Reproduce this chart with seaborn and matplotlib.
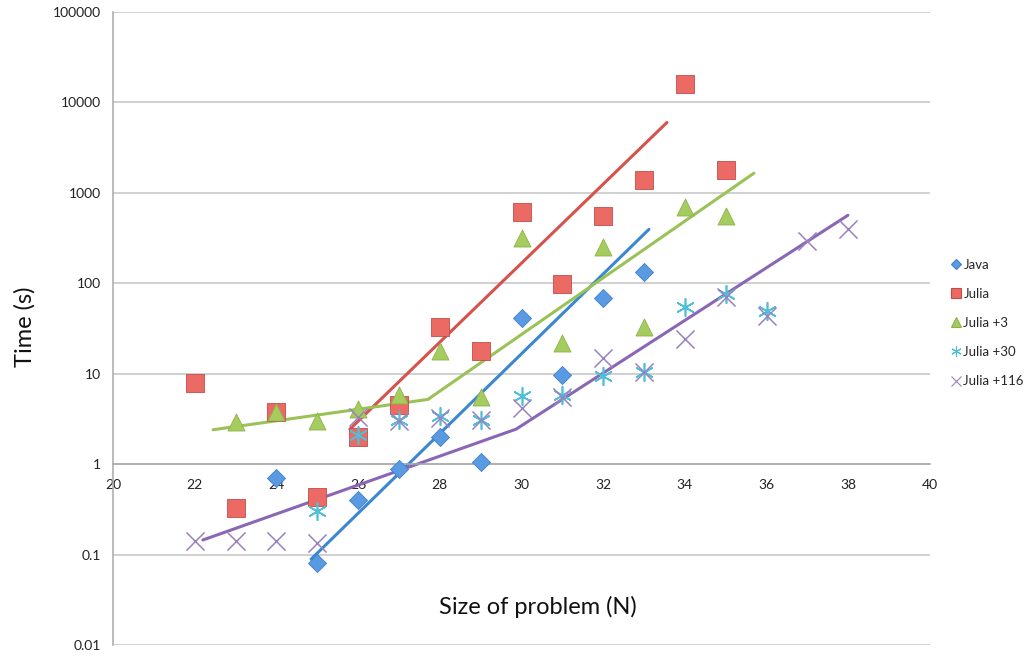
import numpy as np
import pandas as pd
import matplotlib
matplotlib.use("Agg")
import matplotlib.pyplot as plt
import seaborn as sns
from matplotlib.lines import Line2D

# Measured run times (seconds) per problem size N
java_n = [24, 25, 26, 27, 28, 29, 30, 31, 32, 33]
java_t = [0.7, 0.08, 0.4, 0.88, 2.0, 1.05, 41, 9.6, 68, 133]

julia_n = [22, 23, 24, 25, 26, 27, 28, 29, 30, 31, 32, 33, 34, 35]
julia_t = [7.9, 0.33, 3.8, 0.43, 2.0, 4.5, 33, 18, 620, 98, 560, 1380, 16000, 1780]

julia3_n = [23, 24, 25, 26, 27, 28, 29, 30, 31, 32, 33, 34, 35]
julia3_t = [2.9, 3.8, 3.0, 4.1, 5.8, 18, 5.5, 320, 22, 250, 33, 690, 550]

julia30_n = [25, 26, 27, 28, 29, 30, 31, 32, 33, 34, 35, 36]
julia30_t = [0.3, 2.1, 3.1, 3.4, 3.1, 5.6, 5.8, 9.4, 10.4, 54, 76, 50]

julia116_n = [22, 23, 24, 25, 26, 27, 28, 29, 30, 31, 32, 33, 34, 35, 36, 37, 38]
julia116_t = [0.14, 0.14, 0.14, 0.135, 3.3, 3.0, 3.2, 3.1, 4.2, 5.5, 15, 10.4, 24, 70, 44, 290, 400]

# Trend lines (break points)
java_trend_n = [24.85, 33.12]
java_trend_t = [0.089, 395]
julia_trend_n = [25.8, 33.56]
julia_trend_t = [2.44, 6000]
julia3_trend_n = [22.45, 27.71, 35.69]
julia3_trend_t = [2.4, 5.2, 1650]
julia116_trend_n = [22.2, 29.87, 37.99]
julia116_trend_t = [0.145, 2.44, 565]

labels = ["Java", "Julia", "Julia +3", "Julia +30", "Julia +116"]

sns.set_style("white")
plt.rcParams['font.family'] = ['Lato', 'DejaVu Sans']

fig = plt.figure(figsize=(10.36, 6.57), dpi=100)
ax = fig.add_axes([113 / 1036, 12 / 657, 817 / 1036, 633 / 657])
ax.set_yscale('log')

# trend lines first so markers sit on top
trends = [
    (java_trend_n, java_trend_t, '#3b87d0'),
    (julia_trend_n, julia_trend_t, '#d5534c'),
    (julia3_trend_n, julia3_trend_t, '#9bc257'),
    (julia116_trend_n, julia116_trend_t, '#8a67b4'),
]
for tn, tt, c in trends:
    sns.lineplot(x=tn, y=tt, ax=ax, color=c, lw=2.2, sort=False, zorder=2)

java_kw = dict(marker='D', color='#5a9ae2', edgecolor='#3f7fc8', linewidth=0.6, s=85)
julia_kw = dict(marker='s', color='#ec6a64', edgecolor='#c24d48', linewidth=0.6, s=150)
julia3_kw = dict(marker='^', color='#a5cc5e', edgecolor='#8db24a', linewidth=0.6, s=150)
julia30_kw = dict(marker=(6, 2, 0), color='#4fbfd8', linewidth=1.2, s=160)
julia116_kw = dict(marker='x', color='#9a82c2', linewidth=1.1, s=170)

sns.scatterplot(x=java_n, y=java_t, ax=ax, zorder=3, **java_kw)
sns.scatterplot(x=julia_n, y=julia_t, ax=ax, zorder=3, **julia_kw)
sns.scatterplot(x=julia3_n, y=julia3_t, ax=ax, zorder=3, **julia3_kw)
sns.scatterplot(x=julia30_n, y=julia30_t, ax=ax, zorder=3, **julia30_kw)
sns.scatterplot(x=julia116_n, y=julia116_t, ax=ax, zorder=3, **julia116_kw)

ax.set_xlim(20, 40)
ax.set_ylim(0.01, 100000)
ax.set_xticks(np.arange(20, 41, 2))
ax.set_yticks([0.01, 0.1, 1, 10, 100, 1000, 10000, 100000])
ax.set_yticklabels(["0.01", "0.1", "1", "10", "100", "1000", "10000", "100000"])
ax.yaxis.set_minor_locator(matplotlib.ticker.NullLocator())

ax.grid(True, axis='y', color='#c4c4c4', lw=1.1)
ax.set_axisbelow(True)
for s in ['top', 'right']:
    ax.spines[s].set_visible(False)
ax.spines['bottom'].set_position(('data', 1))
ax.spines['left'].set_color('#a8a8a8')
ax.spines['bottom'].set_color('#a8a8a8')
ax.spines['left'].set_linewidth(1.1)
ax.spines['bottom'].set_linewidth(1.1)
ax.tick_params(axis='both', direction='out', length=5, width=1, color='#a8a8a8',
               labelsize=10, labelcolor='#222222')
ax.tick_params(axis='x', pad=6)
ax.set_xlabel("")
ax.set_ylabel("")

fig.text(538 / 1036, 1 - 607 / 657, "Size of problem (N)", fontsize=17,
         ha='center', va='center', color='#111111')
fig.text(25 / 1036, 1 - 327 / 657, "Time (s)", fontsize=17, rotation=90,
         ha='center', va='center', color='#111111')

handles = []
for kw in [java_kw, julia_kw, julia3_kw, julia30_kw, julia116_kw]:
    filled = kw['marker'] in ('D', 's', '^')
    handles.append(Line2D([], [], ls='none', marker=kw['marker'],
                          markersize=np.sqrt(kw['s']) * 0.6,
                          markerfacecolor=kw['color'] if filled else 'none',
                          markeredgecolor=kw.get('edgecolor', kw['color']),
                          markeredgewidth=0.8))
fig.legend(handles, labels, loc='upper left', bbox_to_anchor=(945 / 1036, 1 - 252 / 657),
           frameon=False, fontsize=9.5, handlelength=0.6, handletextpad=0.3,
           labelspacing=1.3, borderpad=0)

fig.savefig("out.png", dpi=100)
